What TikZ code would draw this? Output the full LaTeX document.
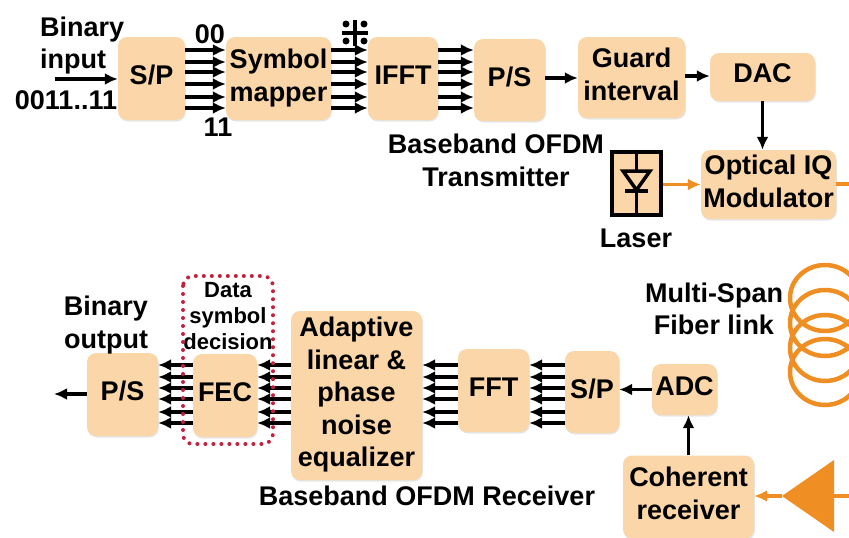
\documentclass[tikz,border=0pt]{standalone}
\usepackage{fontspec}
\setmainfont{Liberation Sans}
\usepackage{tikz}
\usetikzlibrary{arrows.meta, shadows}
\usepackage{xcolor}
\definecolor{peach}{HTML}{FBD6A8}
\definecolor{fiberorange}{HTML}{EF8E22}
\definecolor{dotred}{HTML}{C4213F}
\tikzset{
    label/.style={font=\fontsize{27}{32.6}\selectfont\bfseries, align=center, inner sep=0pt},
    block/.style={label, text depth=7pt, fill=peach, rounded corners=9pt, drop shadow={shadow xshift=0.8pt, shadow yshift=-1.5pt, opacity=0.2}},
    sig/.style={line width=3.8pt, -{Latex[length=13pt, width=12pt]}},
    optic/.style={line width=3.8pt, fiberorange, -{Latex[length=13pt, width=12pt]}},
}

\begin{document}
\begin{tikzpicture}[x=1pt, y=-1pt]
    \clip (0,0) rectangle (849,538);
    % Transmitter blocks
    \node[block, minimum width=67pt, minimum height=83pt] (txsp) at (151.5,78.5) {S/P};
    \node[block, minimum width=105pt, minimum height=83pt] (mapper) at (278.5,78.5) {Symbol\\mapper};
    \node[block, minimum width=70pt, minimum height=83pt] (ifft) at (403,78.5) {IFFT};
    \node[block, minimum width=71pt, minimum height=82pt] (txps) at (509.5,80) {P/S};
    \node[block, minimum width=107pt, minimum height=81pt] (guard) at (631.5,77.5) {Guard\\interval};
    \node[block, minimum width=105pt, minimum height=48pt] (dac) at (762.5,77) {DAC};
    \node[block, minimum width=135pt, minimum height=69pt] (iq) at (768.5,184.5) {Optical IQ\\Modulator};
    % Laser
    \node[draw, line width=4pt, fill=peach, minimum width=49pt, minimum height=63pt] (laser) at (636.5,183.5) {};
    \draw[line width=3.5pt] (laser.north) -- (laser.south);
    \filldraw[line width=3.5pt, fill=peach] (623,171) -- (650,171) -- (636.5,190) -- cycle;
    \draw[line width=3.5pt] (625,191) -- (648,191);
    % Receiver blocks
    \node[block, minimum width=71pt, minimum height=83pt] (rxps) at (122.5,394.5) {P/S};
    \node[block, minimum width=64pt, minimum height=83pt] (fec) at (225,395.5) {FEC};
    \node[block, minimum width=131pt, minimum height=169pt] (equal) at (356.5,395.5) {Adaptive\\linear \&\\phase\\noise\\equalizer};
    \node[block, minimum width=71pt, minimum height=83pt] (fft) at (493.5,390.5) {FFT};
    \node[block, minimum width=54pt, minimum height=82pt] (rxsp) at (592,392) {S/P};
    \node[block, minimum width=65pt, minimum height=51pt] (adc) at (684.5,389.5) {ADC};
    \node[block, minimum width=131pt, minimum height=83pt] (coherent) at (688.5,497) {Coherent\\receiver};
    % Labels
    \node[label, align=left, anchor=west] (bininput) at (40,45.5) {Binary\\input};
    \node[label] (binvalue) at (66,100) {0011..11};
    \node[label] (zeros) at (210,34) {00};
    \node[label] (ones) at (218,127) {11};
    \node[label] (txname) at (496,160.5) {Baseband OFDM\\Transmitter};
    \node[label] (lasername) at (636,238) {Laser};
    \node[label] (fibername) at (714,309) {Multi-Span\\Fiber link};
    \node[label] (binoutput) at (106,325) {Binary\\output};
    \node[label] (rxname) at (427,496) {Baseband OFDM Receiver};
    \node[label, font=\fontsize{22}{26}\selectfont\bfseries] (decision) at (228,316) {Data\\symbol\\decision};
    % Parallel lines
    \foreach \y in {50,62,72,84,97,108} {
        \draw[sig] (txsp.east |- 0,\y) -- (mapper.west |- 0,\y);
        \draw[sig] (mapper.east |- 0,\y) -- (ifft.west |- 0,\y);
        \draw[sig] (ifft.east |- 0,\y) -- (txps.west |- 0,\y);
    }
    \foreach \y in {365,377,388,399,412,423} {
        \draw[sig] (rxsp.west |- 0,\y) -- (fft.east |- 0,\y);
        \draw[sig] (fft.west |- 0,\y) -- (equal.east |- 0,\y);
        \draw[sig] (equal.west |- 0,\y) -- (fec.east |- 0,\y);
        \draw[sig] (fec.west |- 0,\y) -- (rxps.east |- 0,\y);
    }
    % Single lines
    \coordinate (datain) at (55,79);
    \coordinate (dataout) at (54,394);
    \draw[sig] (datain) -- (txsp.west |- datain);
    \draw[sig] (txps.east |- 0,78) -- (guard.west |- 0,78);
    \draw[sig] (guard.east |- 0,76) -- (dac.west |- 0,76);
    \draw[sig] (dac.south) -- (iq.north -| dac.south);
    \draw[sig] (adc.west) -- (rxsp.east |- adc.west);
    \draw[sig] (coherent.north) -- (adc.south -| coherent.north);
    \draw[sig] (rxps.west |- dataout) -- (dataout);
    % Constellation
    \draw[line width=4pt] (355,20) -- (355,46) (342,33) -- (368,33);
    \foreach \px in {346,364} {
        \foreach \py in {24,41} {
            \fill (\px,\py) circle (3.5pt);
        }
    }
    % Decision frame
    \draw[dotred, line width=4pt, line cap=round, dash pattern=on 0pt off 8pt, rounded corners=10pt] (183,276) rectangle (273,444);
    % Optical path
    \coordinate (iqout) at (849,184);
    \coordinate (ampout) at (849,496);
    \draw[optic] (laser.east |- iq.west) -- (iq.west);
    \draw[line width=3.8pt, fiberorange] (iq.east |- iqout) -- (iqout);
    \foreach \y in {298,323,348,372} {
        \draw[fiberorange, line width=4.5pt] (825,\y) ellipse (35 and 33);
    }
    \coordinate (amptip) at (782,496);
    \fill[fiberorange] (amptip) -- (834,460) -- (834,532) -- cycle;
    \draw[line width=3.8pt, fiberorange] (834,496) -- (ampout);
    \draw[optic] (amptip) -- (coherent.east |- amptip);
\end{tikzpicture}
\end{document}
